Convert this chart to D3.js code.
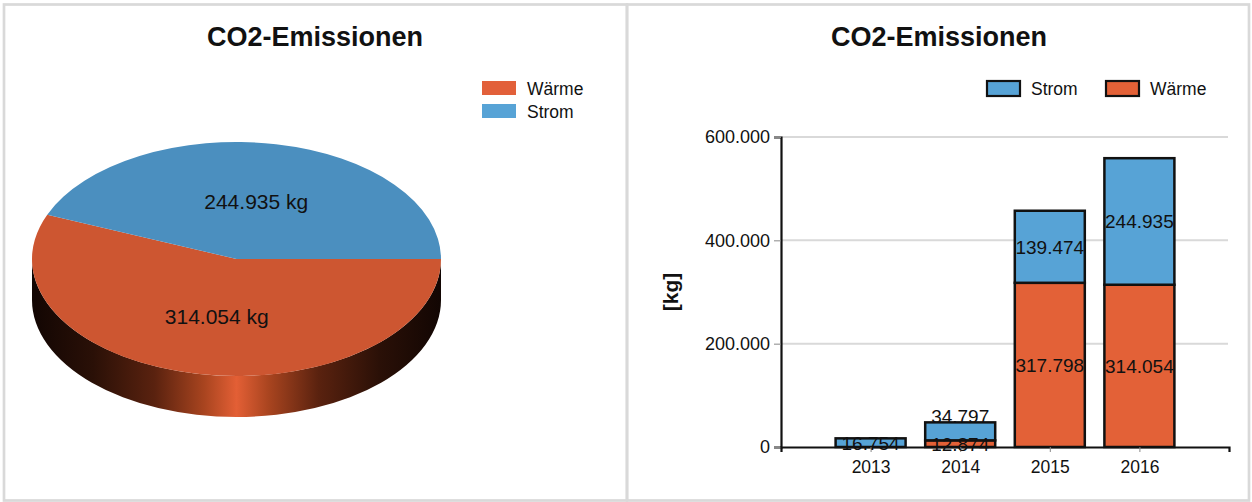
<!DOCTYPE html>
<html>
<head>
<meta charset="utf-8">
<script src="https://cdn.jsdelivr.net/npm/d3@7"></script>
<style>
  body { margin: 0; background: #fff; }
  svg { display: block; font-family: "Liberation Sans", Arial, sans-serif; }
</style>
</head>
<body>
<svg id="chart" width="1252" height="502"></svg>
<script>
// data
var pieLabels = ["Wärme", "Strom"];
var pieValues = [314054, 244935];

var years = ["2013", "2014", "2015", "2016"];
var stromValues = [16754, 34797, 139474, 244935];
var waermeValues = [0, 12874, 317798, 314054];
var yTicks = [0, 200000, 400000, 600000];

var de = d3.formatLocale({ decimal: ",", thousands: ".", grouping: [3], currency: ["", " €"] });
var fmt = de.format(",d");

var svg = d3.select("#chart");

// panel frames
svg.append("rect").attr("x", 4).attr("y", 4.5).attr("width", 623).attr("height", 496)
   .attr("fill", "none").attr("stroke", "#d9d9d9").attr("stroke-width", 2.7);
svg.append("rect").attr("x", 627).attr("y", 4.5).attr("width", 622).attr("height", 496)
   .attr("fill", "none").attr("stroke", "#d9d9d9").attr("stroke-width", 2.7);

// titles
[315, 939].forEach(function(x) {
  svg.append("text").attr("x", x).attr("y", 46).attr("text-anchor", "middle")
     .attr("font-size", 27).attr("font-weight", "bold").attr("fill", "#111")
     .text("CO2-Emissionen");
});

// ---------- 3D pie ----------
var cx = 236.5, cy = 259, rx = 204.5, ry = 117, depth = 41;
var topColors = { "Wärme": "#cd5631", "Strom": "#4b8fbf" };
var legendColors = { "Wärme": "#e2603a", "Strom": "#57a3d6" };

var defs = svg.append("defs");
var grad = defs.append("linearGradient").attr("id", "sideGrad")
   .attr("gradientUnits", "userSpaceOnUse")
   .attr("x1", cx - rx).attr("x2", cx + rx).attr("y1", 0).attr("y2", 0);
[[0, "#120603"], [0.15, "#2a1007"], [0.3, "#5a220f"], [0.42, "#a8441f"], [0.5, "#e35f35"],
 [0.58, "#a8441f"], [0.7, "#5a220f"], [0.85, "#2a1007"], [1, "#120603"]].forEach(function(s) {
  grad.append("stop").attr("offset", s[0]).attr("stop-color", s[1]);
});

var pie = d3.pie().sort(null).startAngle(Math.PI / 2).endAngle(Math.PI / 2 + 2 * Math.PI);
var arcs = pie(pieValues);

function pt(t, dy) { return [cx + rx * Math.cos(t), cy + (dy || 0) + ry * Math.sin(t)]; }

var pieG = svg.append("g");

// sides (front half only, t in [0, PI])
arcs.forEach(function(a, i) {
  var t0 = a.startAngle - Math.PI / 2, t1 = a.endAngle - Math.PI / 2;
  var s0 = Math.max(t0, 0), s1 = Math.min(t1, Math.PI);
  if (s1 <= s0) return;
  var p0 = pt(s0), p1 = pt(s1), q1 = pt(s1, depth), q0 = pt(s0, depth);
  var d = "M" + p0 + " A" + rx + "," + ry + " 0 0 1 " + p1 +
          " L" + q1 + " A" + rx + "," + ry + " 0 0 0 " + q0 + " Z";
  pieG.append("path").attr("d", d).attr("fill", "url(#sideGrad)");
});

// tops
arcs.forEach(function(a, i) {
  var t0 = a.startAngle - Math.PI / 2, t1 = a.endAngle - Math.PI / 2;
  var large = (t1 - t0) > Math.PI ? 1 : 0;
  var d = "M" + cx + "," + cy + " L" + pt(t0) + " A" + rx + "," + ry + " 0 " + large + " 1 " + pt(t1) + " Z";
  pieG.append("path").attr("d", d).attr("fill", topColors[pieLabels[i]]);
});

// pie labels
arcs.forEach(function(a, i) {
  var tm = (a.startAngle + a.endAngle) / 2 - Math.PI / 2;
  var x = cx + rx * 0.5 * Math.cos(tm), y = cy + ry * 0.5 * Math.sin(tm);
  pieG.append("text").attr("x", x).attr("y", y + 7.5).attr("text-anchor", "middle")
     .attr("font-size", 21).attr("fill", "#111").text(fmt(pieValues[i]) + " kg");
});

// pie legend
pieLabels.forEach(function(l, i) {
  var g = svg.append("g").attr("transform", "translate(482," + (81 + i * 23) + ")");
  g.append("rect").attr("width", 34).attr("height", 14).attr("fill", legendColors[l]);
  g.append("text").attr("x", 45).attr("y", 13.5).attr("font-size", 17.5).attr("fill", "#111").text(l);
});

// ---------- stacked bars ----------
var barBlue = "#57a3d6", barOrange = "#e36137";
var x = d3.scalePoint().domain(years).range([781, 1229]).padding(1);
var y = d3.scaleLinear().domain([0, 600000]).range([447, 137]);
var bw = 70;

// grid
svg.append("g").selectAll("line").data(yTicks.slice(1)).enter().append("line")
   .attr("x1", 781).attr("x2", 1228).attr("y1", function(d) { return y(d); }).attr("y2", function(d) { return y(d); })
   .attr("stroke", "#d9d9d9").attr("stroke-width", 2);

// y axis
var yAxis = svg.append("g").attr("transform", "translate(781,0)")
   .call(d3.axisLeft(y).tickValues(yTicks).tickFormat(fmt).tickSize(7).tickPadding(4));
yAxis.select(".domain").attr("stroke", "#111").attr("stroke-width", 2.2);
yAxis.selectAll(".tick line").attr("stroke", "#888").attr("stroke-width", 1);
yAxis.selectAll("text").attr("font-size", 18).attr("fill", "#111").attr("font-family", "Liberation Sans, Arial, sans-serif");

svg.append("text").attr("transform", "translate(678,292) rotate(-90)").attr("text-anchor", "middle")
   .attr("font-size", 21).attr("font-weight", "bold").attr("fill", "#111").text("[kg]");

// stacks
var rows = years.map(function(yr, i) { return { year: yr, "Wärme": waermeValues[i], "Strom": stromValues[i] }; });
var stack = d3.stack().keys(["Wärme", "Strom"])(rows);
var colorOf = { "Wärme": barOrange, "Strom": barBlue };

stack.forEach(function(layer) {
  svg.append("g").selectAll("rect").data(layer).enter().filter(function(d) { return d[1] > d[0]; })
     .append("rect")
     .attr("x", function(d) { return x(d.data.year) - bw / 2; })
     .attr("y", function(d) { return y(d[1]); })
     .attr("width", bw)
     .attr("height", function(d) { return y(d[0]) - y(d[1]); })
     .attr("fill", colorOf[layer.key]).attr("stroke", "#111").attr("stroke-width", 2.5);
});

// x axis
var xAxis = svg.append("g").attr("transform", "translate(0,447)")
   .call(d3.axisBottom(x).tickSize(5).tickSizeOuter(5).tickPadding(9));
xAxis.select(".domain").attr("stroke", "#111").attr("stroke-width", 2.2);
xAxis.selectAll(".tick line").attr("stroke", "#888");
xAxis.selectAll("text").attr("font-size", 17.5).attr("fill", "#111").attr("font-family", "Liberation Sans, Arial, sans-serif");

// bar labels
years.forEach(function(yr, i) {
  var prevCenter = null;
  stack.forEach(function(layer) {
    var d = layer[i];
    if (d[1] <= d[0]) return;
    var c = (y(d[0]) + y(d[1])) / 2;
    var base = c + 7;
    if (prevCenter !== null && prevCenter - c < 18) base = y(d[1]) + 1;
    svg.append("text").attr("x", x(yr)).attr("y", base).attr("text-anchor", "middle")
       .attr("font-size", 19).attr("fill", "#111").text(fmt(layer.key === "Wärme" ? waermeValues[i] : stromValues[i]));
    prevCenter = c;
  });
});

// bar legend
var legendKeys = ["Strom", "Wärme"];
var legendX = [987, 1106];
legendKeys.forEach(function(k, i) {
  var g = svg.append("g").attr("transform", "translate(" + legendX[i] + ",81)");
  g.append("rect").attr("width", 33).attr("height", 15).attr("fill", colorOf[k]).attr("stroke", "#111").attr("stroke-width", 2.2);
  g.append("text").attr("x", 44).attr("y", 14).attr("font-size", 17.5).attr("fill", "#111").text(k);
});
</script>
</body>
</html>
